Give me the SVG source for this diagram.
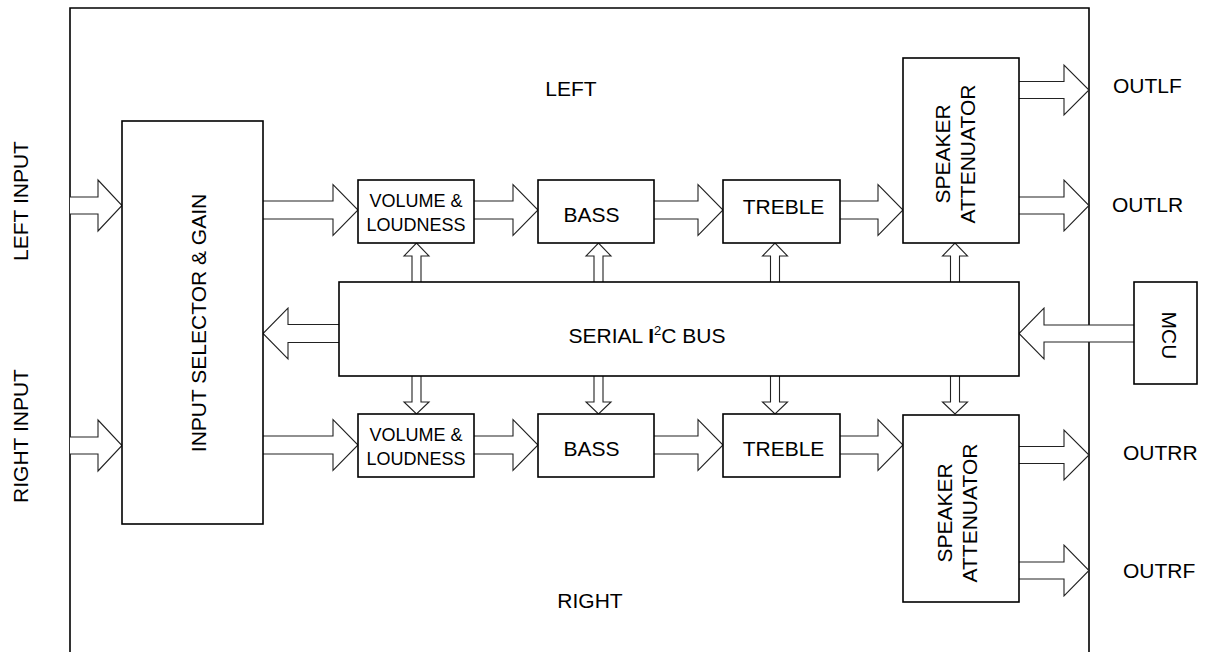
<svg xmlns="http://www.w3.org/2000/svg" width="1205" height="652" viewBox="0 0 1205 652">
<style>
.box{fill:#fff;stroke:#000;stroke-width:1.6}
.arr{fill:#fff;stroke:#222;stroke-width:1.1;stroke-linejoin:miter}
.t{font-family:"Liberation Sans",Arial,sans-serif;font-size:21px;fill:#000}
.s{font-family:"Liberation Sans",Arial,sans-serif;font-size:18px;fill:#000}
.frame{fill:none;stroke:#000;stroke-width:1.6}
</style>
<rect width="1205" height="652" fill="#fff"/>
<path class="frame" d="M70,652 V8 H1089 V652"/>
<g id="connectors">
<!-- inputs -->
<path class="arr" d="M70,197 H98 V180 L122,205.5 L98,231 V214 H70"/>
<path class="arr" d="M70,437 H98 V420 L122,445.5 L98,471 V454 H70"/>
<!-- top row -->
<path class="arr" d="M263,201 H333 V184.5 L358,210 L333,235.5 V219 H263"/>
<path class="arr" d="M474,201 H513 V184.5 L538,210 L513,235.5 V219 H474"/>
<path class="arr" d="M654,201 H698 V184.5 L723,210 L698,235.5 V219 H654"/>
<path class="arr" d="M840,201 H878 V184.5 L903,210 L878,235.5 V219 H840"/>
<!-- bottom row -->
<path class="arr" d="M263,436 H333 V419.5 L358,445 L333,470.5 V454 H263"/>
<path class="arr" d="M474,436 H513 V419.5 L538,445 L513,470.5 V454 H474"/>
<path class="arr" d="M654,436 H698 V419.5 L723,445 L698,470.5 V454 H654"/>
<path class="arr" d="M840,436 H878 V419.5 L903,445 L878,470.5 V454 H840"/>
<!-- outputs -->
<path class="arr" d="M1019,81.5 H1064 V65 L1089,90 L1064,115 V98.5 H1019"/>
<path class="arr" d="M1019,197 H1064 V180 L1089,205.5 L1064,231 V214 H1019"/>
<path class="arr" d="M1019,446.5 H1064 V430 L1089,455 L1064,480 V463.5 H1019"/>
<path class="arr" d="M1019,562 H1064 V545 L1089,570.5 L1064,596 V579 H1019"/>
<!-- bus to selector, MCU to bus -->
<path class="arr" d="M339,324.5 H288 V308 L263,333.5 L288,359 V342.5 H339"/>
<path class="arr" d="M1134,325 H1044 V308 L1019,333.5 L1044,359 V342 H1134"/>
<!-- bus up arrows -->
<path class="arr" d="M412,282 V256 H404 L416.5,243 L429,256 H421 V282"/>
<path class="arr" d="M594,282 V256 H586 L598.5,243 L611,256 H603 V282"/>
<path class="arr" d="M770.5,282 V256 H762.5 L775,243 L787.5,256 H779.5 V282"/>
<path class="arr" d="M950.5,282 V256 H942.5 L955,243 L967.5,256 H959.5 V282"/>
<!-- bus down arrows -->
<path class="arr" d="M412,376 V402 H404 L416.5,414 L429,402 H421 V376"/>
<path class="arr" d="M594,376 V402 H586 L598.5,414 L611,402 H603 V376"/>
<path class="arr" d="M770.5,376 V402 H762.5 L775,414 L787.5,402 H779.5 V376"/>
<path class="arr" d="M950.5,376 V402 H942.5 L955,414 L967.5,402 H959.5 V376"/>
</g>
<g id="input-selector">
<rect class="box" x="122" y="121" width="141" height="403"/>
<text class="t" transform="translate(206,323) rotate(-90)" text-anchor="middle">INPUT SELECTOR &amp; GAIN</text>
</g>
<g id="volume-left">
<rect class="box" x="358" y="180" width="116" height="63"/>
<text class="s" x="416" y="207" text-anchor="middle">VOLUME &amp;</text>
<text class="s" x="416" y="231" text-anchor="middle">LOUDNESS</text>
</g>
<g id="bass-left">
<rect class="box" x="538" y="180" width="116" height="63"/>
<text class="t" x="591.5" y="222" text-anchor="middle">BASS</text>
</g>
<g id="treble-left">
<rect class="box" x="723" y="180" width="117" height="63"/>
<text class="t" x="783.5" y="214" text-anchor="middle">TREBLE</text>
</g>
<g id="speaker-left">
<rect class="box" x="903" y="58" width="116" height="185"/>
<text class="t" transform="translate(950,154) rotate(-90)" text-anchor="middle">SPEAKER</text>
<text class="t" transform="translate(975,154) rotate(-90)" text-anchor="middle">ATTENUATOR</text>
</g>
<g id="volume-right">
<rect class="box" x="358" y="414" width="116" height="63"/>
<text class="s" x="416" y="441" text-anchor="middle">VOLUME &amp;</text>
<text class="s" x="416" y="465" text-anchor="middle">LOUDNESS</text>
</g>
<g id="bass-right">
<rect class="box" x="538" y="414" width="116" height="63"/>
<text class="t" x="591.5" y="456" text-anchor="middle">BASS</text>
</g>
<g id="treble-right">
<rect class="box" x="723" y="414" width="117" height="63"/>
<text class="t" x="783.5" y="456" text-anchor="middle">TREBLE</text>
</g>
<g id="speaker-right">
<rect class="box" x="903" y="415" width="116" height="187"/>
<text class="t" transform="translate(952,513) rotate(-90)" text-anchor="middle">SPEAKER</text>
<text class="t" transform="translate(977,513) rotate(-90)" text-anchor="middle">ATTENUATOR</text>
</g>
<g id="bus">
<rect class="box" x="339" y="282" width="680" height="94"/>
<text class="t" x="647" y="343" text-anchor="middle">SERIAL <tspan font-weight="bold">I</tspan><tspan font-size="13" dy="-8">2</tspan><tspan dy="8">C BUS</tspan></text>
</g>
<g id="mcu">
<rect class="box" x="1134" y="282" width="63" height="102"/>
<text class="t" transform="translate(1162,335.5) rotate(90)" text-anchor="middle">MCU</text>
</g>
<g id="labels">
<text class="t" x="571" y="96" text-anchor="middle">LEFT</text>
<text class="t" x="590" y="608" text-anchor="middle">RIGHT</text>
<text class="t" x="1113" y="93">OUTLF</text>
<text class="t" x="1112" y="212">OUTLR</text>
<text class="t" x="1123" y="460">OUTRR</text>
<text class="t" x="1123" y="578">OUTRF</text>
<text class="t" transform="translate(28,201) rotate(-90)" text-anchor="middle">LEFT INPUT</text>
<text class="t" transform="translate(28,436) rotate(-90)" text-anchor="middle">RIGHT INPUT</text>
</g>
</svg>
